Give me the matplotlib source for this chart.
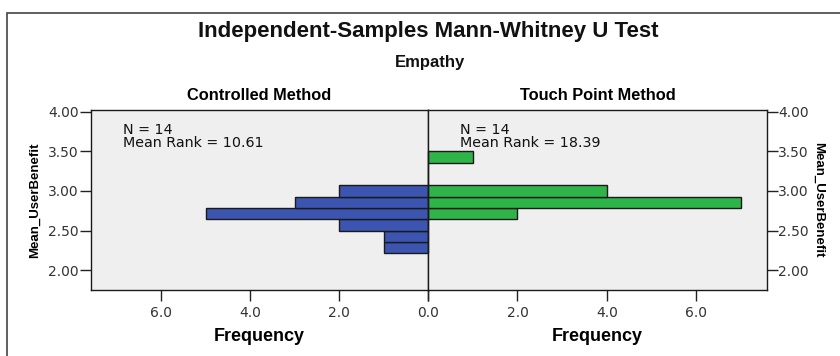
import matplotlib
matplotlib.use("Agg")
import matplotlib.pyplot as plt
from matplotlib.patches import Rectangle
import numpy as np

# bin edges of Mean_UserBenefit (width 1/7)
bin_edges = [2.2143, 2.3571, 2.5, 2.6429, 2.7857, 2.9286, 3.0714, 3.2143, 3.3571, 3.5]
controlled_counts = [1, 1, 2, 5, 3, 2, 0, 0, 0]
touch_counts = [0, 0, 0, 2, 7, 4, 0, 0, 1]
groups = ["Controlled Method", "Touch Point Method"]
group_n = [14, 14]
mean_ranks = [10.61, 18.39]
y_ticks = [2.00, 2.50, 3.00, 3.50, 4.00]
x_ticks = [0.0, 2.0, 4.0, 6.0]

BLUE = "#3b55b0"
GREEN = "#2fb44a"
BG = "#efefef"
BOLD_FONT = ["Liberation Sans", "DejaVu Sans"]
TEXT_FONT = ["DejaVu Sans"]

plt.rcParams["font.family"] = TEXT_FONT

fig = plt.figure(figsize=(8.4, 3.56), dpi=100)
W, H = 840, 356


def fx(px):
    return px / W


def fy(py):
    return 1 - py / H


# outer frame
fig.patches.append(Rectangle((fx(7), fy(400)), 2, fy(13) - fy(400),
                             transform=fig.transFigure, fill=False,
                             edgecolor="#444444", linewidth=1.2))

left, mid, right = 91, 428, 767
top, bottom = 110, 290
axL = fig.add_axes([fx(left), fy(bottom), fx(mid - left), fy(top) - fy(bottom)])
axR = fig.add_axes([fx(mid), fy(bottom), fx(right - mid), fy(top) - fy(bottom)])

edges = np.array(bin_edges)
heights = np.diff(edges)
xmax = 7.58
for ax, counts, color in [(axL, controlled_counts, BLUE), (axR, touch_counts, GREEN)]:
    ax.set_facecolor(BG)
    ax.barh(edges[:-1], counts, height=heights, align="edge", color=color,
            edgecolor="#1a1a1a", linewidth=1.0, zorder=2)
    ax.set_ylim(1.75, 4.02)
    ax.set_yticks(y_ticks)
    ax.set_yticklabels([f"{v:.2f}" for v in y_ticks])
    ax.set_xticks(x_ticks)
    ax.tick_params(axis="both", length=8, width=1, labelsize=10,
                   labelcolor="#333333", color="#222222")
    for sp in ax.spines.values():
        sp.set_linewidth(1.0)
        sp.set_color("#1a1a1a")

axL.set_xticklabels([f"{v:.1f}" for v in x_ticks])
# the shared zero is labelled once
axR.set_xticklabels([""] + [f"{v:.1f}" for v in x_ticks[1:]])
axL.set_xlim(xmax, 0)
axR.set_xlim(0, xmax)
axR.yaxis.tick_right()
axR.tick_params(axis="y", pad=0)
axL.tick_params(axis="y", pad=1)

axL.set_ylabel("Mean_UserBenefit", fontsize=9.5, fontweight="bold",
               family=BOLD_FONT, labelpad=5)
axR.yaxis.set_label_position("right")
axR.set_ylabel("Mean_UserBenefit", fontsize=9.5, fontweight="bold",
               family=BOLD_FONT, rotation=-90, labelpad=11)

for ax, name in [(axL, groups[0]), (axR, groups[1])]:
    ax.set_title(name, fontsize=11.8, fontweight="bold", family=BOLD_FONT, pad=7)
    ax.set_xlabel("Frequency", fontsize=13, fontweight="bold",
                  family=BOLD_FONT, labelpad=6)

for x0, n, mr in [(123, group_n[0], mean_ranks[0]), (460, group_n[1], mean_ranks[1])]:
    fig.text(fx(x0), fy(123), f"N = {n}\nMean Rank = {mr:.2f}",
             fontsize=10.3, va="top", ha="left", linespacing=0.95,
             color="#111111")

fig.text(fx(428), fy(32), "Independent-Samples Mann-Whitney U Test",
         ha="center", va="center", fontsize=16, fontweight="bold",
         family=BOLD_FONT, color="#111111")
fig.text(fx(430), fy(62), "Empathy", ha="center", va="center",
         fontsize=12, fontweight="bold", family=BOLD_FONT, color="#111111")

fig.savefig("out.png", dpi=100, facecolor="white")
